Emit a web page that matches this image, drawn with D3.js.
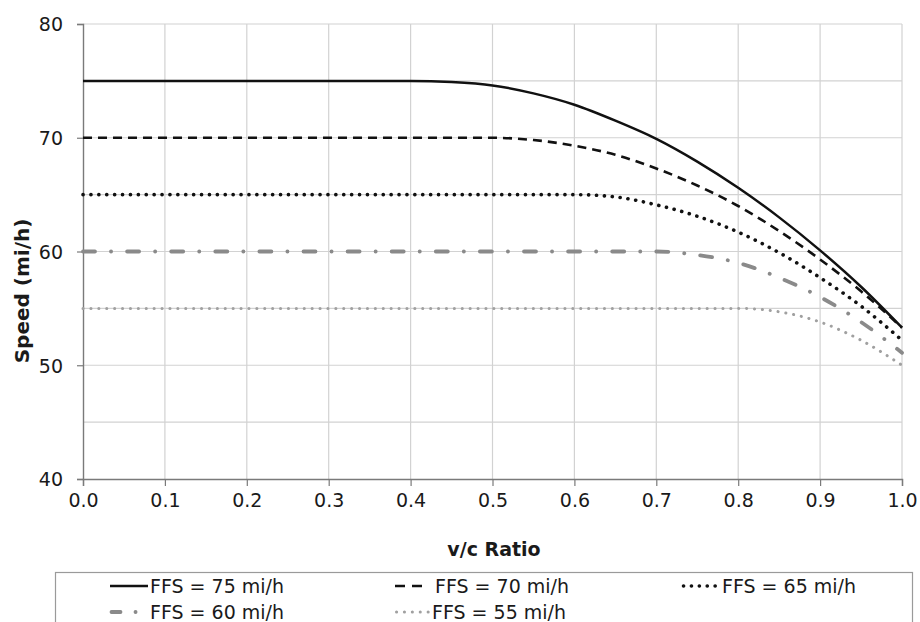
<!DOCTYPE html>
<html>
<head>
<meta charset="utf-8">
<script src="https://cdn.jsdelivr.net/npm/d3@7"></script>
<style>
  html, body { margin: 0; padding: 0; background: #fff; }
  svg { display: block; font-family: "DejaVu Sans", Verdana, sans-serif; }
</style>
</head>
<body>
<svg id="chart" width="920" height="622"></svg>
<script>
// v/c ratio samples
const vcRatio = [0, 0.05, 0.1, 0.15, 0.2, 0.25, 0.3, 0.35, 0.4, 0.45, 0.5,
                 0.55, 0.6, 0.65, 0.7, 0.75, 0.8, 0.85, 0.9, 0.95, 1.0];

// Speed (mi/h) by free-flow speed
const ffs75 = [75, 75, 75, 75, 75, 75, 75, 75, 75, 74.9, 74.6,
               73.9, 72.9, 71.5, 69.9, 67.9, 65.6, 63.0, 60.1, 56.9, 53.3];
const ffs70 = [70, 70, 70, 70, 70, 70, 70, 70, 70, 70, 70,
               69.8, 69.3, 68.5, 67.3, 65.8, 64.0, 61.8, 59.3, 56.5, 53.3];
const ffs65 = [65, 65, 65, 65, 65, 65, 65, 65, 65, 65, 65,
               65, 65, 64.8, 64.1, 63.1, 61.7, 59.9, 57.7, 55.2, 52.2];
const ffs60 = [60, 60, 60, 60, 60, 60, 60, 60, 60, 60, 60,
               60, 60, 60, 60, 59.7, 59.0, 57.7, 56.0, 53.8, 51.1];
const ffs55 = [55, 55, 55, 55, 55, 55, 55, 55, 55, 55, 55,
               55, 55, 55, 55, 55, 55, 54.7, 53.8, 52.2, 50.0];

const seriesLabels = ["FFS = 75 mi/h", "FFS = 70 mi/h", "FFS = 65 mi/h",
                      "FFS = 60 mi/h", "FFS = 55 mi/h"];

const xTicks = [0, 0.1, 0.2, 0.3, 0.4, 0.5, 0.6, 0.7, 0.8, 0.9, 1.0];
const yTicks = [40, 50, 60, 70, 80];
const yGrid = [45, 50, 55, 60, 65, 70, 75, 80];

const styles = [
  { color: "#111", width: 2.5, dash: null, cap: "butt" },
  { color: "#111", width: 2.6, dash: "9 6", cap: "butt" },
  { color: "#111", width: 3.6, dash: "0.1 7.8", cap: "round" },
  { color: "#8a8a8a", width: 3.8, dash: "12 16 0.1 16", cap: "round" },
  { color: "#a0a0a0", width: 3.0, dash: "0.1 7.8", cap: "round" }
];

const svg = d3.select("#chart");
const plotL = 83, plotR = 902, plotT = 24, plotB = 479;

const x = d3.scaleLinear().domain([0, 1]).range([plotL, plotR]);
const y = d3.scaleLinear().domain([40, 80]).range([plotB, plotT]);

// grid
svg.append("g").selectAll("line").data(yGrid).join("line")
  .attr("x1", plotL).attr("x2", plotR)
  .attr("y1", d => y(d)).attr("y2", d => y(d))
  .attr("stroke", "#d2d2d2").attr("stroke-width", 1.2);
svg.append("g").selectAll("line").data(xTicks.slice(1)).join("line")
  .attr("x1", d => x(d)).attr("x2", d => x(d))
  .attr("y1", plotT).attr("y2", plotB)
  .attr("stroke", "#d2d2d2").attr("stroke-width", 1.2);

// axes
const xAxis = svg.append("g")
  .attr("transform", `translate(0,${plotB})`)
  .call(d3.axisBottom(x).tickValues(xTicks).tickFormat(d3.format(".1f"))
        .tickSize(7).tickPadding(8));
const yAxis = svg.append("g")
  .attr("transform", `translate(${plotL},0)`)
  .call(d3.axisLeft(y).tickValues(yTicks).tickSize(6).tickPadding(14));
[xAxis, yAxis].forEach(a => {
  a.select(".domain").attr("stroke", "#7a7a7a").attr("stroke-width", 1.4);
  a.selectAll(".tick line").attr("stroke", "#7a7a7a").attr("stroke-width", 1.2);
  a.selectAll(".tick text").attr("fill", "#1a1a1a")
    .style("font-size", "19px").style("font-family", "'DejaVu Sans', sans-serif");
});
yAxis.selectAll(".tick text").attr("dy", "0.36em");

// axis titles
svg.append("text").attr("x", 494).attr("y", 556)
  .attr("text-anchor", "middle").attr("font-weight", "bold")
  .attr("font-size", 19).attr("fill", "#1a1a1a").text("v/c Ratio");
svg.append("text")
  .attr("transform", "translate(29,291) rotate(-90)")
  .attr("text-anchor", "middle").attr("font-weight", "bold")
  .attr("font-size", 20).attr("fill", "#1a1a1a").text("Speed (mi/h)");

// curves
const allSeries = [ffs75, ffs70, ffs65, ffs60, ffs55];
const line = d3.line()
  .x(d => x(d[0])).y(d => y(d[1]))
  .curve(d3.curveMonotoneX);
svg.append("g").selectAll("path").data(allSeries).join("path")
  .attr("d", s => line(vcRatio.map((v, i) => [v, s[i]])))
  .attr("fill", "none")
  .attr("stroke", (s, i) => styles[i].color)
  .attr("stroke-width", (s, i) => styles[i].width)
  .attr("stroke-dasharray", (s, i) => styles[i].dash)
  .attr("stroke-linecap", (s, i) => styles[i].cap);

// legend
svg.append("rect").attr("x", 55.5).attr("y", 572.5)
  .attr("width", 857).attr("height", 70)
  .attr("fill", "#fff").attr("stroke", "#9a9a9a").attr("stroke-width", 1.2);

const legendItems = [
  { x1: 110, x2: 148, tx: 150, ty: 593, sym: 0 },
  { x1: 395, x2: 427, tx: 435, ty: 593, sym: 1 },
  { x1: 682, x2: 718, tx: 722, ty: 593, sym: 2 },
  { x1: 110, x2: 142, tx: 150, ty: 619, sym: 3 },
  { x1: 395, x2: 430, tx: 432, ty: 619, sym: 4 }
];
const legendDash = [null, "10 7", "0.1 7.8", "9 15 0.1 10", "0.1 7.8"];
const lg = svg.append("g");
legendItems.forEach((it, i) => {
  const st = styles[it.sym];
  lg.append("line")
    .attr("x1", it.x1 + (st.cap === "round" ? 1.5 : 0)).attr("x2", it.x2)
    .attr("y1", it.ty - 7).attr("y2", it.ty - 7)
    .attr("stroke", st.color).attr("stroke-width", st.width)
    .attr("stroke-dasharray", legendDash[it.sym])
    .attr("stroke-linecap", st.cap);
  lg.append("text").attr("x", it.tx).attr("y", it.ty)
    .attr("font-size", 19).attr("fill", "#1a1a1a").text(seriesLabels[i]);
});
</script>
</body>
</html>
